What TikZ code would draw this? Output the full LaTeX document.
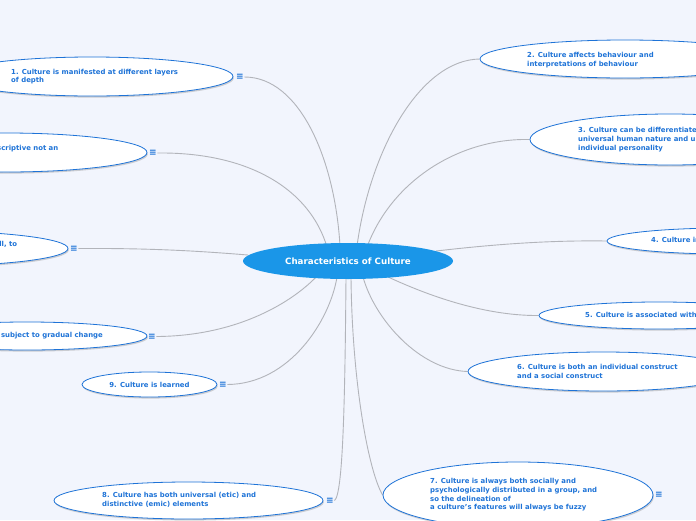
\documentclass[tikz,border=0pt]{standalone}
\usepackage{fontspec}
\setmainfont{DejaVu Sans}
\usetikzlibrary{shapes.geometric,shadows}
\pgfdeclarelayer{bgl}
\pgfdeclarelayer{edges}
\pgfsetlayers{bgl,edges,main}
\definecolor{bg}{RGB}{242,245,253}
\definecolor{nodeblue}{RGB}{30,115,215}
\definecolor{rootblue}{RGB}{26,150,232}
\definecolor{conncol}{RGB}{178,180,186}
\tikzset{
  bub/.style={ellipse, draw=nodeblue, line width=0.8pt, fill=white, inner sep=0pt,
    drop shadow={shadow xshift=0.8pt, shadow yshift=-1.6pt, opacity=0.35, fill=gray}},
  rootnode/.style={ellipse, fill=rootblue, inner sep=0pt, minimum width=210pt, minimum height=36pt,
    text=white, font=\fontsize{8.7}{10}\selectfont\bfseries},
  txt/.style={font=\fontsize{6.9}{8.7}\selectfont\bfseries, text=nodeblue, align=left, inner sep=0pt, anchor=west},
  txtc/.style={font=\fontsize{6.9}{8.7}\selectfont\bfseries, text=nodeblue, inner sep=0pt},
  icon/.style={font=\fontsize{9}{9}\selectfont\bfseries, text=nodeblue, inner sep=0.5pt},
  conn/.style={draw=conncol, line width=0.9pt}
}
\begin{document}
\begin{tikzpicture}[x=1pt,y=-1pt]
\useasboundingbox (0,0) rectangle (696,520);
\begin{pgfonlayer}{bgl}
\fill[bg] (0,0) rectangle (696,520);
\end{pgfonlayer}

% root
\node[rootnode] (root) at (348,261) {Characteristics of Culture};

% right side
\node[bub, minimum width=290pt, minimum height=38pt] (n2) at (625,59) {};
\node[txt] (t2) at (527,60) {2. Culture affects behaviour and\\interpretations of behaviour};

\node[bub, minimum width=280pt, minimum height=51pt] (n3) at (670,139.5) {};
\node[txt] (t3) at (578,139.5) {3. Culture can be differentiated from both\\universal human nature and unique\\individual personality};

\node[bub, minimum width=240pt, minimum height=26pt] (n4) at (727,241) {};
\node[txt] (t4) at (651,241) {4. Culture influences biological processes};

\node[bub, minimum width=240pt, minimum height=27pt] (n5) at (659,315.5) {};
\node[txt] (t5) at (585,316) {5. Culture is associated with social groups};

\node[bub, minimum width=270pt, minimum height=39pt] (n6) at (603,371.5) {};
\node[txt] (t6) at (517,371.5) {6. Culture is both an individual construct\\and a social construct};

\node[bub, minimum width=270pt, minimum height=66pt] (n7) at (518,495) {};
\node[txt] (t7) at (430,495) {7. Culture is always both socially and\\psychologically distributed in a group, and\\so the delineation of\\a culture's features will always be fuzzy};
\node[icon] (i7) at (659,495) {≡};

% left side
\node[bub, minimum width=282pt, minimum height=39pt] (n1) at (92,76.5) {};
\node[txt] (t1) at (11,76.5) {1. Culture is manifested at different layers\\of depth};
\node[icon] (i1) at (240,77) {≡};

\node[bub, minimum width=282pt, minimum height=39pt] (n12) at (6,152.5) {};
\node[txt] (t12) at (-75,152.5) {12. Culture is a descriptive not an\\evaluative concept};
\node[icon] (i12) at (153,153) {≡};

\node[bub, minimum width=282pt, minimum height=35pt] (n11) at (-73,248.5) {};
\node[txt] (t11) at (-154,248.5) {11. The various parts of a culture are all, to\\some degree, interrelated};
\node[icon] (i11) at (74,248.5) {≡};

\node[bub, minimum width=240pt, minimum height=28pt] (n10) at (27,336) {};
\node[txtc, anchor=east] (t10) at (103,336) {10. Culture is subject to gradual change};
\node[icon] (i10) at (152,336.5) {≡};

\node[bub, minimum width=135pt, minimum height=25pt] (n9) at (149.5,384.5) {};
\node[txtc] (t9) at (149.5,384.5) {9. Culture is learned};
\node[icon] (i9) at (223,384.5) {≡};

\node[bub, minimum width=269pt, minimum height=37pt] (n8) at (188.5,500.5) {};
\node[txt] (t8) at (102,500) {8. Culture has both universal (etic) and\\distinctive (emic) elements};
\node[icon] (i8) at (330,500.5) {≡};

% root attachment points
\coordinate (r1) at (340,246);
\coordinate (r2) at (357,246);
\coordinate (r3) at (367,247);
\coordinate (r4) at (436,251);
\coordinate (r5) at (386,276);
\coordinate (r6) at (363,277);
\coordinate (r7) at (351,277);
\coordinate (r8) at (346,277);
\coordinate (r9) at (337,277);
\coordinate (r10) at (318,275);
\coordinate (r11) at (248,255);
\coordinate (r12) at (327,247);

\begin{pgfonlayer}{edges}
\draw[conn] (i1.east) .. controls (300,77) and (335,160) .. (r1);
\draw[conn] (n2.west) .. controls (420,60) and (370,150) .. (r2);
\draw[conn] (n3.west) .. controls (460,138) and (392,180) .. (r3);
\draw[conn] (n4.west) .. controls (540,240) and (480,246) .. (r4);
\draw[conn] (n5.west) .. controls (480,316) and (420,292) .. (r5);
\draw[conn] (n6.west) .. controls (420,370) and (375,320) .. (r6);
\draw[conn] (n7.west) .. controls (368,470) and (352,380) .. (r7);
\draw[conn] (i8.east) .. controls (343,495) and (345,400) .. (r8);
\draw[conn] (i9.east) .. controls (290,384) and (330,320) .. (r9);
\draw[conn] (i10.east) .. controls (240,336) and (295,300) .. (r10);
\draw[conn] (i11.east) .. controls (160,248) and (210,252) .. (r11);
\draw[conn] (i12.east) .. controls (250,152) and (310,190) .. (r12);
\end{pgfonlayer}
\end{tikzpicture}
\end{document}
